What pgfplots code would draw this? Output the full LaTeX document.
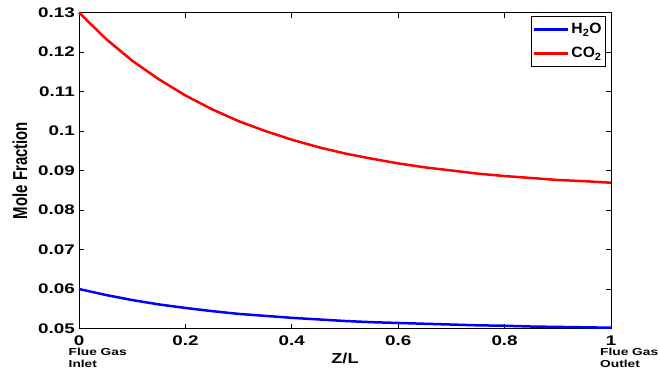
\documentclass[border=0pt]{standalone}
\usepackage{fontspec}
\setmainfont{Liberation Sans}
\usepackage{graphicx}
\usepackage{pgfplots}
\pgfplotsset{compat=1.18}
\newcommand{\sx}[1]{\scalebox{1.35}[1]{#1}}
\begin{document}
\begin{tikzpicture}
\useasboundingbox (-79bp,-42.5bp) rectangle (581bp,328.5bp);
\begin{axis}[
  at={(0,0)}, anchor=south west,
  scale only axis, width=532bp, height=316bp,
  xmin=0, xmax=1, ymin=0.05, ymax=0.13,
  clip=false,
  axis line style={line width=0.8bp},
  tick style={line width=0.8bp, black},
  tick align=inside, major tick length=5bp,
  xtick={0,0.2,0.4,0.6,0.8,1},
  xticklabels={\sx{0},\sx{0.2},\sx{0.4},\sx{0.6},\sx{0.8},\sx{1}},
  ytick={0.05,0.06,0.07,0.08,0.09,0.1,0.11,0.12,0.13},
  yticklabels={\sx{0.05},\sx{0.06},\sx{0.07},\sx{0.08},\sx{0.09},\sx{0.1},\sx{0.11},\sx{0.12},\sx{0.13}},
  tick label style={font=\fontsize{14}{16}\selectfont\bfseries},
  xticklabel style={inner sep=1bp, yshift=-6.5bp},
  yticklabel style={inner sep=1bp, xshift=-3bp},
  every axis y label/.style={at={(axis description cs:-0.111,0.5)}, rotate=90, anchor=center},
  every axis x label/.style={at={(axis description cs:0.5,-0.095)}, anchor=center},
  ylabel={\fontsize{15}{16}\selectfont\bfseries\scalebox{1}[1.35]{Mole Fraction}},
  xlabel={\fontsize{14.5}{16}\selectfont\bfseries\scalebox{1.25}[1]{Z/L}},
  legend style={at={(axis description cs:0.9906,0.989)}, anchor=north east,
    font=\fontsize{15}{16}\selectfont\bfseries, draw=black, line width=0.8bp,
    inner xsep=2bp, inner ysep=5bp, row sep=8bp, cells={anchor=west}},
  legend image code/.code={\draw[#1, line width=2.5bp] (0bp,0bp) -- (34bp,0bp);},
]
\addplot[blue, line width=2.5bp] coordinates {
(0,0.0600) (0.05,0.0585) (0.1,0.0572) (0.15,0.0561) (0.2,0.0552) (0.25,0.0544)
(0.3,0.0537) (0.35,0.0532) (0.4,0.0527) (0.45,0.0523) (0.5,0.0519) (0.55,0.0516)
(0.6,0.0514) (0.65,0.0512) (0.7,0.0510) (0.75,0.0508) (0.8,0.0507) (0.85,0.0505)
(0.9,0.0504) (0.95,0.0503) (1.0,0.0502)};
\addlegendentry{\scalebox{1.05}[1]{H\textsubscript{2}O}}
\addplot[red, line width=2.5bp] coordinates {
(0,0.1300) (0.05,0.1234) (0.1,0.1178) (0.15,0.1131) (0.2,0.1090) (0.25,0.1055)
(0.3,0.1025) (0.35,0.1000) (0.4,0.0978) (0.45,0.0959) (0.5,0.0943) (0.55,0.0930)
(0.6,0.0918) (0.65,0.0908) (0.7,0.0900) (0.75,0.0892) (0.8,0.0886) (0.85,0.0881)
(0.9,0.0876) (0.95,0.0873) (1.0,0.0869)};
\addlegendentry{\scalebox{1.05}[1]{CO\textsubscript{2}}}
\node[anchor=north west, inner sep=0pt, align=left, font=\fontsize{10.2}{12}\selectfont\bfseries]
  at ([xshift=-10.5bp,yshift=-19.5bp]axis description cs:0,0) {\sx{Flue Gas}\\\sx{Inlet}};
\node[anchor=north west, inner sep=0pt, align=left, font=\fontsize{10.2}{12}\selectfont\bfseries]
  at ([xshift=-11bp,yshift=-19.5bp]axis description cs:1,0) {\sx{Flue Gas}\\\sx{Outlet}};
\end{axis}
\end{tikzpicture}
\end{document}
